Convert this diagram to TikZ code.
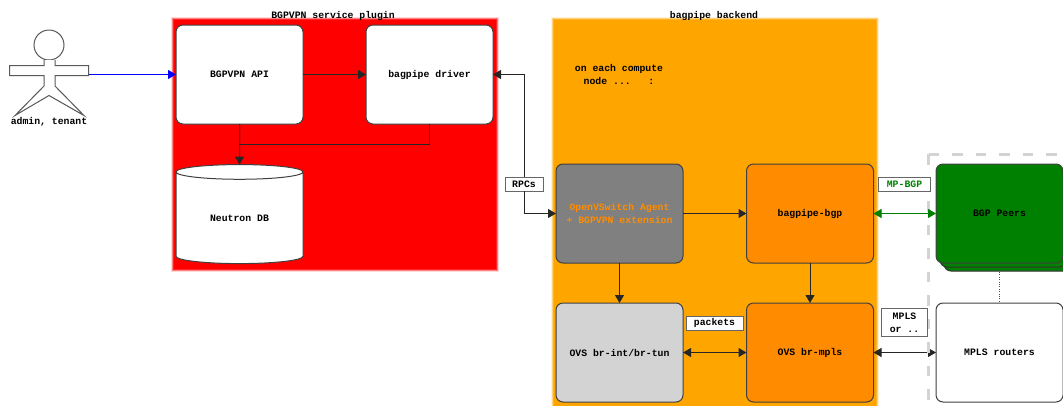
\documentclass[tikz,border=0pt]{standalone}
\usepackage{fontspec}
\setmonofont{Liberation Mono}
\usetikzlibrary{arrows.meta,shapes.geometric,shadows}
\definecolor{backendorange}{HTML}{FFA500}
\definecolor{bgporange}{HTML}{FF8C00}
\definecolor{ovsgray}{HTML}{D3D3D3}
\definecolor{agentgray}{HTML}{808080}
\definecolor{peergreen}{HTML}{008000}
\tikzset{
    >={Triangle[length=8pt,width=9pt]},
    every node/.style={font=\fontsize{9.8}{13}\selectfont\ttfamily\bfseries, inner sep=0pt, outer sep=0pt, align=center},
    groupbox/.style={minimum width=323, minimum height=250, fill=#1,
        preaction={draw=#1!15, line width=5pt}, preaction={draw=#1!50, line width=3pt}, draw=#1!85, line width=1pt},
    hostbox/.style={draw=black!75, fill=white, rounded corners=7pt, line width=1pt, minimum width=127, minimum height=99},
    tagbox/.style={draw=black!60, fill=white, line width=1pt},
    link/.style={line width=1pt, black!85},
    actorline/.style={draw=black!65, fill=white, line width=1pt},
}
\begin{document}
\begin{tikzpicture}[x=1pt, y=-1pt]
        \useasboundingbox (0, 0) rectangle (1063, 405);

        % groups
        \node[groupbox=red] at (334.5, 144) (plugin) {};
        \node[groupbox=backendorange, minimum height=400] at (714.5, 219) (backend) {};
        \node at (333, 16) (plugintitle) {BGPVPN service plugin};
        \node at (714, 16) (backendtitle) {bagpipe backend};
        \node at (619, 74.5) (computenote) {on each compute\\node ...\ \ \ :};

        % actor
        \draw[actorline] (49, 45) circle (15);
        \draw[actorline] (44, 60) -- (44, 65.5) -- (9.5, 65.5) -- (9.5, 75.5) -- (44, 75.5) -- (44, 86)
            -- (15, 115.5) -- (49, 95.5) -- (84, 115.5) -- (55, 86) -- (55, 75.5) -- (88.5, 75.5)
            -- (88.5, 65.5) -- (55, 65.5) -- (55, 60);
        \node at (49, 122) (actor) {admin, tenant};
        \coordinate (actorhand) at (88.5, 74.5);

        % hosts
        \node[hostbox] at (239.5, 74.5) (api) {BGPVPN API};
        \node[hostbox] at (429.5, 74.5) (driver) {bagpipe driver};
        \node[cylinder, shape border rotate=90, aspect=0.25, draw=black!75, fill=white, line width=1pt,
            minimum width=127, minimum height=99] at (239.5, 218) (db) {Neutron DB};
        \node[hostbox, fill=agentgray, text=bgporange] at (619.5, 213.5) (agent) {OpenVSwitch Agent\\+ BGPVPN extension};
        \node[hostbox, fill=bgporange] at (810, 213.5) (bgp) {bagpipe-bgp};
        \node[hostbox, fill=peergreen, double copy shadow={shadow xshift=4pt, shadow yshift=-4pt, draw=black!80, fill=peergreen}] at (999.5, 213.5) (peers) {BGP Peers};
        \node[hostbox, fill=ovsgray] at (619.5, 352.5) (brint) {OVS br-int/br-tun};
        \node[hostbox, fill=bgporange] at (810, 352.5) (brmpls) {OVS br-mpls};
        \node[hostbox] at (999.5, 352.5) (routers) {MPLS routers};

        % labels
        \node[tagbox, minimum width=38, minimum height=14] at (524, 184) (rpcs) {RPCs};
        \node[tagbox, minimum width=57, minimum height=14] at (714.5, 323) (packets) {packets};

        \coordinate (dbjoin) at (239.5, 144);
        \coordinate (peerstack) at (999.5, 272);

        \draw[->, blue, line width=1pt]  (actorhand) -- (api);
        \draw[->, link]  (api) -- (driver);
        \draw[->, link]  (api) -- (db);
        \draw[link]  (driver) |- (dbjoin);
        \draw[<-, link]  (driver) -| (rpcs);
        \draw[->, link]  (rpcs) |- (agent);
        \draw[->, link]  (agent) -- (bgp);
        \draw[->, link]  (agent) -- (brint);
        \draw[->, link]  (bgp) -- (brmpls);
        \draw[<->, link]  (brint) -- (brmpls);
        \draw[<->, link]  (brmpls) -- (routers);
        \draw[dotted, black!70]  (peerstack) -- (routers);

        % peers frame
        \draw[ovsgray, line width=3pt, dash pattern=on 10.5pt off 13pt] (928.5, 154) -- (1063, 154);
        \draw[ovsgray, line width=3pt, dash pattern=on 10.5pt off 13pt] (928.5, 154) -- (928.5, 405);

        \draw[<->, peergreen, line width=1pt]  (bgp) -- (peers);
        \node[tagbox, minimum width=52, minimum height=14, text=peergreen] at (904.5, 184) (mpbgp) {MP-BGP};
        \node[tagbox, minimum width=46, minimum height=28] at (904.5, 322.5) (mplsor) {MPLS\\or ..};

    \end{tikzpicture}
\end{document}
